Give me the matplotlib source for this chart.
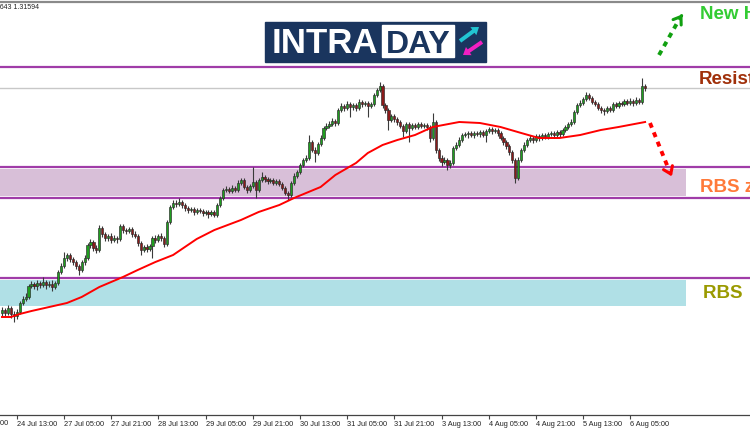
import numpy as np
import matplotlib.pyplot as plt
from matplotlib.patches import Rectangle, FancyArrow

plt.rcParams['font.family'] = ['Liberation Sans', 'DejaVu Sans']

# GBPUSD H1, one bar per hour from 24 Jul 08:00 to 6 Aug 10:00
open_first = 1.2709
closes = [
    1.2715, 1.2709, 1.2719, 1.2707, 1.2703, 1.2711, 1.2729, 1.2737, 1.2741, 1.2763, 1.2767, 1.2763,
    1.2769, 1.2765, 1.2771, 1.2765, 1.2767, 1.2761, 1.2769, 1.2791, 1.2803,
    1.2819, 1.2825, 1.2817, 1.2811, 1.2803, 1.2795, 1.2811, 1.2819, 1.2845, 1.2851, 1.2839, 1.2835,
    1.2879, 1.2867, 1.2859, 1.2863,
    1.2855, 1.2859, 1.2857, 1.2883, 1.2875, 1.2873, 1.2877, 1.2867, 1.2863, 1.2849, 1.2835, 1.2841,
    1.2837, 1.2843, 1.2859, 1.2855, 1.2863, 1.2859, 1.2847, 1.2891, 1.2921, 1.2929, 1.2927, 1.2931,
    1.2925, 1.2919, 1.2915, 1.2917, 1.2911, 1.2915, 1.2913, 1.2909, 1.2911, 1.2907, 1.2911, 1.2905,
    1.2925, 1.2939, 1.2955, 1.2957, 1.2953, 1.2959, 1.2955, 1.2969, 1.2975, 1.2961, 1.2955, 1.2963,
    1.2971, 1.2955, 1.2975, 1.2981, 1.2977, 1.2973, 1.2975, 1.2969, 1.2973, 1.2967, 1.2959, 1.2949,
    1.2945, 1.2969, 1.2983, 1.2991, 1.3005, 1.3015, 1.3019, 1.3051, 1.3035, 1.3029, 1.3047,
    1.3059, 1.3079, 1.3083, 1.3087, 1.3093, 1.3089, 1.3115, 1.3123, 1.3119, 1.3127, 1.3121, 1.3125,
    1.3119, 1.3131, 1.3127, 1.3129, 1.3123, 1.3127, 1.3145, 1.3155, 1.3163, 1.3125, 1.3115, 1.3095,
    1.3103, 1.3097, 1.3091, 1.3083, 1.3073, 1.3087, 1.3079, 1.3085, 1.3081, 1.3087, 1.3083, 1.3085,
    1.3081, 1.3059, 1.3091, 1.3035, 1.3019, 1.3011, 1.3015, 1.3005, 1.3009, 1.3039, 1.3045, 1.3055,
    1.3065, 1.3067, 1.3069, 1.3065, 1.3069, 1.3067, 1.3071, 1.3065, 1.3073, 1.3077, 1.3073, 1.3075,
    1.3069,
    1.3059, 1.3051, 1.3043, 1.3031, 1.3015, 1.2979, 1.3015, 1.3035, 1.3045, 1.3055, 1.3059, 1.3055,
    1.3063, 1.3059, 1.3065, 1.3061, 1.3067, 1.3069, 1.3065, 1.3071, 1.3067, 1.3075, 1.3081, 1.3087,
    1.3091, 1.3111, 1.3125, 1.3129, 1.3137, 1.3145, 1.3139, 1.3131, 1.3127, 1.3119, 1.3115, 1.3113,
    1.3119, 1.3115, 1.3127, 1.3123, 1.3129, 1.3127, 1.3133, 1.3129, 1.3133, 1.3129, 1.3135, 1.3131,
    1.3163, 1.3159,
]
highs = [
    1.2721, 1.2719, 1.2725, 1.2723, 1.2713, 1.2717, 1.2733, 1.2743, 1.2749, 1.2767, 1.2773, 1.2771,
    1.2775, 1.2773, 1.2781, 1.2775, 1.2773, 1.2775, 1.2773, 1.2795, 1.2809,
    1.2831, 1.2829, 1.2829, 1.2821, 1.2815, 1.2807, 1.2815, 1.2825, 1.2849, 1.2857, 1.2855, 1.2845,
    1.2885, 1.2883, 1.2871, 1.2867,
    1.2869, 1.2865, 1.2863, 1.2887, 1.2887, 1.2879, 1.2881, 1.2881, 1.2873, 1.2867, 1.2853, 1.2845,
    1.2847, 1.2847, 1.2863, 1.2865, 1.2867, 1.2869, 1.2863, 1.2895, 1.2925, 1.2935, 1.2935, 1.2939,
    1.2935, 1.2929, 1.2923, 1.2921, 1.2921, 1.2919, 1.2919, 1.2917, 1.2915, 1.2915, 1.2915, 1.2915,
    1.2929, 1.2943, 1.2959, 1.2963, 1.2961, 1.2965, 1.2963, 1.2975, 1.2979, 1.2979, 1.2965, 1.2967,
    1.3001, 1.2975, 1.2979, 1.2991, 1.2985, 1.2981, 1.2979, 1.2979, 1.2977, 1.2977, 1.2971, 1.2963,
    1.2953, 1.2973, 1.2989, 1.2995, 1.3009, 1.3019, 1.3025, 1.3065, 1.3055, 1.3041, 1.3051,
    1.3065, 1.3083, 1.3089, 1.3093, 1.3099, 1.3097, 1.3119, 1.3129, 1.3127, 1.3133, 1.3131, 1.3129,
    1.3129, 1.3137, 1.3135, 1.3133, 1.3133, 1.3131, 1.3149, 1.3159, 1.3171, 1.3167, 1.3129, 1.3119,
    1.3107, 1.3107, 1.3101, 1.3095, 1.3087, 1.3091, 1.3091, 1.3089, 1.3089, 1.3091, 1.3091, 1.3089,
    1.3089, 1.3085, 1.3109, 1.3095, 1.3039, 1.3025, 1.3021, 1.3019, 1.3015, 1.3043, 1.3051, 1.3061,
    1.3069, 1.3071, 1.3073, 1.3073, 1.3073, 1.3073, 1.3075, 1.3075, 1.3077, 1.3081, 1.3081, 1.3079,
    1.3079,
    1.3073, 1.3063, 1.3055, 1.3047, 1.3035, 1.3019, 1.3021, 1.3039, 1.3051, 1.3059, 1.3065, 1.3063,
    1.3067, 1.3067, 1.3069, 1.3069, 1.3071, 1.3073, 1.3073, 1.3075, 1.3075, 1.3079, 1.3085, 1.3091,
    1.3097, 1.3115, 1.3129, 1.3135, 1.3141, 1.3151, 1.3149, 1.3143, 1.3135, 1.3131, 1.3123, 1.3119,
    1.3123, 1.3123, 1.3131, 1.3131, 1.3133, 1.3133, 1.3137, 1.3137, 1.3139, 1.3137, 1.3141, 1.3139,
    1.3179, 1.3167,
]
lows = [
    1.2703, 1.2703, 1.2705, 1.2699, 1.2691, 1.2697, 1.2707, 1.2725, 1.2733, 1.2737, 1.2759, 1.2757,
    1.2755, 1.2759, 1.2761, 1.2757, 1.2761, 1.2753, 1.2757, 1.2765, 1.2787,
    1.2799, 1.2813, 1.2811, 1.2805, 1.2797, 1.2785, 1.2791, 1.2805, 1.2815, 1.2839, 1.2833, 1.2829,
    1.2831, 1.2861, 1.2853, 1.2853,
    1.2849, 1.2851, 1.2849, 1.2853, 1.2869, 1.2867, 1.2869, 1.2861, 1.2859, 1.2843, 1.2825, 1.2831,
    1.2831, 1.2833, 1.2819, 1.2849, 1.2851, 1.2853, 1.2841, 1.2843, 1.2887, 1.2917, 1.2921, 1.2923,
    1.2919, 1.2913, 1.2909, 1.2911, 1.2905, 1.2907, 1.2909, 1.2903, 1.2905, 1.2899, 1.2903, 1.2901,
    1.2901, 1.2921, 1.2935, 1.2951, 1.2949, 1.2949, 1.2951, 1.2951, 1.2965, 1.2957, 1.2949, 1.2951,
    1.2959, 1.2939, 1.2951, 1.2971, 1.2971, 1.2967, 1.2969, 1.2965, 1.2965, 1.2963, 1.2955, 1.2945,
    1.2935, 1.2941, 1.2965, 1.2979, 1.2987, 1.3001, 1.3011, 1.3015, 1.3031, 1.3011, 1.3025,
    1.3043, 1.3055, 1.3075, 1.3079, 1.3083, 1.3083, 1.3085, 1.3111, 1.3113, 1.3115, 1.3101, 1.3115,
    1.3113, 1.3115, 1.3121, 1.3123, 1.3101, 1.3119, 1.3123, 1.3141, 1.3151, 1.3119, 1.3109, 1.3075,
    1.3091, 1.3091, 1.3085, 1.3079, 1.3061, 1.3069, 1.3051, 1.3075, 1.3077, 1.3077, 1.3079, 1.3079,
    1.3075, 1.3051, 1.3055, 1.3029, 1.3013, 1.3003, 1.3007, 1.2995, 1.2999, 1.3005, 1.3035, 1.3041,
    1.3051, 1.3061, 1.3059, 1.3061, 1.3059, 1.3063, 1.3061, 1.3061, 1.3051, 1.3069, 1.3067, 1.3069,
    1.3063,
    1.3055, 1.3045, 1.3037, 1.3025, 1.3009, 1.2969, 1.2975, 1.3011, 1.3031, 1.3041, 1.3051, 1.3049,
    1.3051, 1.3053, 1.3055, 1.3057, 1.3057, 1.3063, 1.3059, 1.3061, 1.3061, 1.3063, 1.3071, 1.3077,
    1.3083, 1.3087, 1.3107, 1.3121, 1.3125, 1.3133, 1.3135, 1.3127, 1.3123, 1.3115, 1.3109, 1.3105,
    1.3109, 1.3111, 1.3111, 1.3119, 1.3119, 1.3123, 1.3123, 1.3125, 1.3125, 1.3123, 1.3125, 1.3127,
    1.3127, 1.3153,
]

# red moving average, read at some bars
ma_idx = [0, 3, 6, 10, 16, 22, 27, 33, 37, 41, 46, 52, 58, 62, 66, 72, 81, 87, 94, 99, 108, 113,
          120, 124, 129, 134, 140, 146, 155, 162, 169, 176, 182, 189, 196, 203, 209, 218]
ma_val = [1.2701, 1.2701, 1.2707, 1.2713, 1.2721, 1.2729, 1.2741, 1.2761, 1.2771, 1.2781, 1.2795,
          1.2811, 1.2825, 1.2841, 1.2857, 1.2875, 1.2895, 1.2911, 1.2925, 1.2939, 1.2961, 1.2985,
          1.3009, 1.3029, 1.3045, 1.3055, 1.3065, 1.3081, 1.3091, 1.3089, 1.3081, 1.3069, 1.3059,
          1.3059, 1.3065, 1.3075, 1.3081, 1.3091]

tick_idx = [5, 21, 37, 53, 69, 85, 101, 117, 133, 149, 165, 181, 197, 213]
tick_labels = ['24 Jul 13:00', '27 Jul 05:00', '27 Jul 21:00', '28 Jul 13:00', '29 Jul 05:00',
               '29 Jul 21:00', '30 Jul 13:00', '31 Jul 05:00', '31 Jul 21:00', '3 Aug 13:00',
               '4 Aug 05:00', '4 Aug 21:00', '5 Aug 13:00', '6 Aug 05:00']

resistance = 1.3201
bid = 1.3159
zone1_lines = [1.3001, 1.2939]
zone1_fill = (1.2943, 1.2997)
zone2_line = 1.2779
zone2_fill = (1.2723, 1.2775)

fig = plt.figure(figsize=(7.5, 4.3), dpi=100)
ax = fig.add_axes([0, 15 / 430, 1, 413 / 430])
ax.set_xlim(-2 / 2.95, 748 / 2.95)
ax.set_ylim(1.2505, 1.3331)

# zones and levels
ax.axhspan(*zone1_fill, xmin=0, xmax=686 / 750, color='#d8bfd8', lw=0, zorder=1)
ax.axhspan(*zone2_fill, xmin=0, xmax=686 / 750, color='#b0e0e6', lw=0, zorder=1)
purple = '#a03ca8'
for y in zone1_lines + [zone2_line, resistance]:
    ax.axhline(y, color=purple, lw=1.6, zorder=2)
ax.axhline(bid, color='#c8c8c8', lw=1, zorder=2)

# candles
c = np.array(closes)
o = np.array([open_first] + closes[:-1])
x = np.arange(len(c))
up = c >= o
ax.vlines(x, lows, highs, color='#3a3a3a', lw=0.8, zorder=3)
ax.bar(x, np.maximum(np.abs(c - o), 0.0001), bottom=np.minimum(o, c), width=0.72,
       color=np.where(up, '#1f9e1f', '#8b1a1a'), edgecolor='#2a2a2a', linewidth=0.45, zorder=4)

ax.plot(ma_idx, ma_val, color='#ff0000', lw=1.4, zorder=5)

for s in ['left', 'right']:
    ax.spines[s].set_visible(False)
ax.spines['top'].set_color('#8a8a8a')
ax.spines['top'].set_linewidth(1.6)
ax.spines['bottom'].set_color('#444444')
ax.spines['bottom'].set_linewidth(0.9)
ax.set_yticks([])
ax.set_xticks(tick_idx)
ax.set_xticklabels(tick_labels, fontsize=5.3, ha='left', color='#222222')
ax.tick_params(axis='x', length=3, width=0.8, color='#444444', pad=1.5)

# overlay in pixel coordinates (y down) for annotations and logo
ov = fig.add_axes([0, 0, 1, 1])
ov.set_xlim(0, 750)
ov.set_ylim(430, 0)
ov.axis('off')

ov.text(-32, 425, '23 Jul 21:00', fontsize=5.3, color='#222222', ha='left', va='baseline')
ov.text(39, 9, '1.31643 1.31594', fontsize=5, color='#222222', ha='right', va='baseline')

navy = '#1a355e'
ov.add_patch(Rectangle((265, 22), 221, 40, color=navy))
ov.add_patch(Rectangle((382, 25), 72, 32, color='white'))
ov.text(325, 53, 'INTRA', color='white', fontsize=25, fontweight='bold', ha='center', va='baseline')
ov.text(418, 53, 'DAY', color=navy, fontsize=23, fontweight='bold', ha='center', va='baseline')
ov.add_patch(FancyArrow(460, 41, 19, -14, width=4, head_width=10, head_length=7,
                        length_includes_head=True, color='#22c5d2', lw=0))
ov.add_patch(FancyArrow(482, 42, -19, 13, width=4, head_width=10, head_length=7,
                        length_includes_head=True, color='#f21fc2', lw=0))

# labels at the right edge
ov.text(700, 19, 'New High', color='#33cc33', fontsize=13.5, fontweight='bold', va='baseline')
ov.text(699, 84, 'Resistance', color='#a0300a', fontsize=13.5, fontweight='bold', va='baseline')
ov.text(700, 192, 'RBS zone 1', color='#ff7a3a', fontsize=13.5, fontweight='bold', va='baseline')
ov.text(703, 298, 'RBS  zone 2', color='#9a9a00', fontsize=13.5, fontweight='bold', va='baseline')

# dashed arrows
ov.plot([659, 680], [55, 18], color='#11a011', lw=2.8, ls=(0, (1.3, 1.3)), solid_capstyle='butt')
ov.annotate('', xy=(684, 12), xytext=(680, 18),
            arrowprops=dict(arrowstyle='->,head_length=0.5,head_width=0.35', color='#11a011', lw=2.2))
ov.plot([650, 669], [123, 170], color='#ff0000', lw=2.8, ls=(0, (1.3, 1.3)), solid_capstyle='butt')
ov.annotate('', xy=(673, 179), xytext=(669, 170),
            arrowprops=dict(arrowstyle='->,head_length=0.5,head_width=0.35', color='#ff0000', lw=2.2))

fig.savefig('out.png', dpi=100)
